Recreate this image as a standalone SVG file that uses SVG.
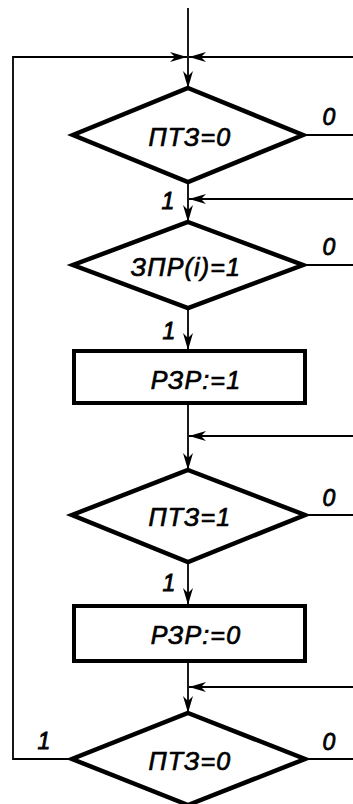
<svg xmlns="http://www.w3.org/2000/svg" width="353" height="804" viewBox="0 0 353 804">
<style>
.bg{fill:#fff}
.blk{fill:#fff;stroke:#000;stroke-width:4.5;stroke-linejoin:miter}
.rect{fill:#fff;stroke:#000;stroke-width:4}
.con{fill:none;stroke:#000;stroke-width:1.8}
.arr{fill:none;stroke:#000;stroke-width:1.8;marker-end:url(#ah)}
.t{font-family:"Liberation Sans","Arial",sans-serif;font-style:italic;font-size:25px;letter-spacing:1.2px;text-anchor:middle;fill:#000;stroke:#000;stroke-width:0.7}
.l{font-family:"Liberation Sans","Arial",sans-serif;font-style:italic;font-size:23px;text-anchor:middle;fill:#000;stroke:#000;stroke-width:0.8}
</style>
<defs>
<marker id="ah" markerUnits="userSpaceOnUse" markerWidth="20" markerHeight="12" refX="17" refY="5" orient="auto">
<path d="M0,0 L17,5 L0,10 L5,5 z" fill="#000"/>
</marker>
</defs>
<rect class="bg" x="0" y="0" width="353" height="804"/>
<g id="connectors">
<path class="con" d="M188,8 V57"/>
<path class="arr" d="M72,759 H13 V57 H187"/>
<path class="arr" d="M353,57 H189"/>
<path class="arr" d="M188,57 V88"/>
<path class="con" d="M303,135 H353"/>
<path class="arr" d="M188,182 V222"/>
<path class="arr" d="M353,199 H189"/>
<path class="con" d="M303,265 H353"/>
<path class="arr" d="M188,308 V350"/>
<path class="arr" d="M188,403 V470"/>
<path class="arr" d="M353,436 H189"/>
<path class="con" d="M305,515 H353"/>
<path class="arr" d="M188,562 V605"/>
<path class="arr" d="M188,661 V713"/>
<path class="arr" d="M353,687 H189"/>
<path class="con" d="M305,759 H353"/>
<text class="l" x="329" y="125">0</text>
<text class="l" x="168" y="209">1</text>
<text class="l" x="329" y="255">0</text>
<text class="l" x="169" y="339">1</text>
<text class="l" x="329" y="506">0</text>
<text class="l" x="169" y="591">1</text>
<text class="l" x="329" y="750">0</text>
<text class="l" x="44" y="749">1</text>
</g>
<g id="d1">
<polygon class="blk" points="188,88 303,135 188,182 73,135"/>
<text class="t" x="190" y="146">ПТЗ=0</text>
</g>
<g id="d2">
<polygon class="blk" points="188,222 303,265 188,308 73,265"/>
<text class="t" x="186" y="276">ЗПР(i)=1</text>
</g>
<g id="r1">
<rect class="rect" x="74" y="351" width="231" height="52"/>
<text class="t" x="196" y="389">РЗР:=1</text>
</g>
<g id="d3">
<polygon class="blk" points="188,470 305,515 188,562 72,515"/>
<text class="t" x="190" y="526">ПТЗ=1</text>
</g>
<g id="r2">
<rect class="rect" x="74" y="606" width="231" height="55"/>
<text class="t" x="196" y="644">РЗР:=0</text>
</g>
<g id="d4">
<polygon class="blk" points="188,713 305,759 188,805 72,759"/>
<text class="t" x="190" y="770">ПТЗ=0</text>
</g>
</svg>
